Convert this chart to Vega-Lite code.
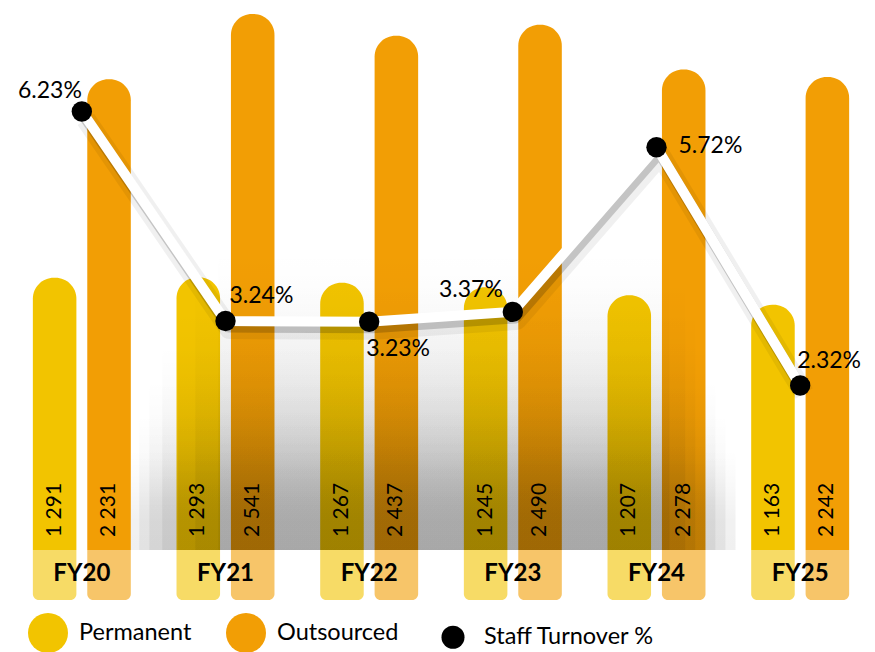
{
  "$schema": "https://vega.github.io/schema/vega-lite/v6.json",
  "width": 862,
  "height": 600,
  "autosize": {"type": "none"},
  "padding": {"left": 10, "top": 0, "right": 3, "bottom": 52},
  "background": "white",
  "config": {
    "view": {"stroke": null},
    "font": "Lato",
    "locale": {"number": {"decimal": ".", "thousands": " ", "grouping": [3], "currency": ["", ""]}}
  },
  "datasets": {
    "staff": [
      {"year": "FY20", "series": "Permanent", "value": 1291},
      {"year": "FY20", "series": "Outsourced", "value": 2231},
      {"year": "FY21", "series": "Permanent", "value": 1293},
      {"year": "FY21", "series": "Outsourced", "value": 2541},
      {"year": "FY22", "series": "Permanent", "value": 1267},
      {"year": "FY22", "series": "Outsourced", "value": 2437},
      {"year": "FY23", "series": "Permanent", "value": 1245},
      {"year": "FY23", "series": "Outsourced", "value": 2490},
      {"year": "FY24", "series": "Permanent", "value": 1207},
      {"year": "FY24", "series": "Outsourced", "value": 2278},
      {"year": "FY25", "series": "Permanent", "value": 1163},
      {"year": "FY25", "series": "Outsourced", "value": 2242}
    ],
    "turnover": [
      {"year": "FY20", "rate": 0.0623},
      {"year": "FY21", "rate": 0.0324},
      {"year": "FY22", "rate": 0.0323},
      {"year": "FY23", "rate": 0.0337},
      {"year": "FY24", "rate": 0.0572},
      {"year": "FY25", "rate": 0.0232}
    ]
  },
  "layer": [
    {
      "layer": [
        {
          "data": {"name": "staff"},
          "mark": {"type": "bar", "cornerRadiusTopLeft": 21, "cornerRadiusTopRight": 21, "cornerRadiusBottomLeft": 6, "cornerRadiusBottomRight": 6},
          "encoding": {
            "x": {"field": "year", "type": "nominal", "scale": {"domain": ["FY20", "FY21", "FY22", "FY23", "FY24", "FY25"], "paddingInner": 0, "paddingOuter": 0}, "axis": null},
            "xOffset": {"field": "series", "type": "nominal", "scale": {"domain": ["Permanent", "Outsourced"], "paddingInner": 0.2, "paddingOuter": 0.42}},
            "y": {"field": "value", "type": "quantitative", "scale": {"domain": [-237, 2607], "nice": false, "zero": false}, "axis": null},
            "y2": {"datum": -237},
            "color": {
              "field": "series", "type": "nominal",
              "scale": {"domain": ["Permanent", "Outsourced", "Staff Turnover %"], "range": ["#F2C400", "#F29E05", "#000000"]},
              "legend": {
                "title": null, "orient": "none", "legendX": 18, "legendY": 613, "direction": "horizontal",
                "symbolType": "circle", "symbolSize": 1600, "symbolStrokeWidth": 0, "symbolOpacity": 1,
                "labelFontSize": 23.5, "labelFont": "Lato", "labelColor": "#000", "labelOffset": 11, "labelLimit": 0,
                "columnPadding": 34, "padding": 0,
                "encode": {"symbols": {"update": {"size": {"signal": "datum.value === 'Staff Turnover %' ? 530 : 1600"}}}}
              }
            }
          }
        },
        {
          "data": {"values": [{}]},
          "mark": {"type": "rect", "fill": {"gradient": "linear", "x1": 0, "y1": 0, "x2": 0, "y2": 1, "stops": [{"offset": 0, "color": "rgba(0,0,0,0)"}, {"offset": 0.35, "color": "rgba(0,0,0,0.023)"}, {"offset": 0.7, "color": "rgba(0,0,0,0.053)"}, {"offset": 1, "color": "rgba(0,0,0,0.06)"}]}},
          "encoding": {"x": {"datum": "FY20", "bandPosition": 0.84}, "x2": {"datum": "FY25", "bandPosition": 0.05}, "y": {"datum": 474}, "y2": {"datum": 0}}
        },
        {
          "data": {"values": [{}]},
          "mark": {"type": "rect", "fill": {"gradient": "linear", "x1": 0, "y1": 0, "x2": 0, "y2": 1, "stops": [{"offset": 0, "color": "rgba(0,0,0,0)"}, {"offset": 0.35, "color": "rgba(0,0,0,0.023)"}, {"offset": 0.7, "color": "rgba(0,0,0,0.053)"}, {"offset": 1, "color": "rgba(0,0,0,0.06)"}]}},
          "encoding": {"x": {"datum": "FY20", "bandPosition": 0.9}, "x2": {"datum": "FY24", "bandPosition": 0.98}, "y": {"datum": 640}, "y2": {"datum": 0}}
        },
        {
          "data": {"values": [{}]},
          "mark": {"type": "rect", "fill": {"gradient": "linear", "x1": 0, "y1": 0, "x2": 0, "y2": 1, "stops": [{"offset": 0, "color": "rgba(0,0,0,0)"}, {"offset": 0.35, "color": "rgba(0,0,0,0.023)"}, {"offset": 0.7, "color": "rgba(0,0,0,0.053)"}, {"offset": 1, "color": "rgba(0,0,0,0.06)"}]}},
          "encoding": {"x": {"datum": "FY20", "bandPosition": 0.97}, "x2": {"datum": "FY24", "bandPosition": 0.91}, "y": {"datum": 806}, "y2": {"datum": 0}}
        },
        {
          "data": {"values": [{}]},
          "mark": {"type": "rect", "fill": {"gradient": "linear", "x1": 0, "y1": 0, "x2": 0, "y2": 1, "stops": [{"offset": 0, "color": "rgba(0,0,0,0)"}, {"offset": 0.35, "color": "rgba(0,0,0,0.023)"}, {"offset": 0.7, "color": "rgba(0,0,0,0.053)"}, {"offset": 1, "color": "rgba(0,0,0,0.06)"}]}},
          "encoding": {"x": {"datum": "FY21", "bandPosition": 0.06}, "x2": {"datum": "FY24", "bandPosition": 0.84}, "y": {"datum": 972}, "y2": {"datum": 0}}
        },
        {
          "data": {"values": [{}]},
          "mark": {"type": "rect", "fill": {"gradient": "linear", "x1": 0, "y1": 0, "x2": 0, "y2": 1, "stops": [{"offset": 0, "color": "rgba(0,0,0,0)"}, {"offset": 0.35, "color": "rgba(0,0,0,0.023)"}, {"offset": 0.7, "color": "rgba(0,0,0,0.053)"}, {"offset": 1, "color": "rgba(0,0,0,0.06)"}]}},
          "encoding": {"x": {"datum": "FY21", "bandPosition": 0.17}, "x2": {"datum": "FY24", "bandPosition": 0.77}, "y": {"datum": 1137}, "y2": {"datum": 0}}
        },
        {
          "data": {"values": [{}]},
          "mark": {"type": "rect", "fill": {"gradient": "linear", "x1": 0, "y1": 0, "x2": 0, "y2": 1, "stops": [{"offset": 0, "color": "rgba(0,0,0,0)"}, {"offset": 0.35, "color": "rgba(0,0,0,0.023)"}, {"offset": 0.7, "color": "rgba(0,0,0,0.053)"}, {"offset": 1, "color": "rgba(0,0,0,0.06)"}]}},
          "encoding": {"x": {"datum": "FY21", "bandPosition": 0.29}, "x2": {"datum": "FY24", "bandPosition": 0.7}, "y": {"datum": 1280}, "y2": {"datum": 0}}
        },
        {
          "data": {"values": [{}]},
          "mark": {"type": "rect", "fill": {"gradient": "linear", "x1": 0, "y1": 0, "x2": 0, "y2": 1, "stops": [{"offset": 0, "color": "rgba(0,0,0,0)"}, {"offset": 0.35, "color": "rgba(0,0,0,0.023)"}, {"offset": 0.7, "color": "rgba(0,0,0,0.053)"}, {"offset": 1, "color": "rgba(0,0,0,0.06)"}]}},
          "encoding": {"x": {"datum": "FY21", "bandPosition": 0.45}, "x2": {"datum": "FY24", "bandPosition": 0.59}, "y": {"datum": 1422}, "y2": {"datum": 0}}
        },
        {
          "data": {"values": [{}]},
          "mark": {"type": "rect", "fill": "#ffffff", "opacity": 0.4},
          "encoding": {"x": {"datum": "FY20", "bandPosition": 0}, "x2": {"datum": "FY25", "bandPosition": 1}, "y": {"datum": 0}, "y2": {"datum": -237}}
        },
        {
          "data": {"name": "staff"},
          "mark": {"type": "text", "angle": 270, "align": "left", "baseline": "middle", "dx": 13, "fontSize": 21, "color": "#000"},
          "encoding": {
            "x": {"field": "year", "type": "nominal"},
            "xOffset": {"field": "series", "type": "nominal"},
            "y": {"datum": 0},
            "text": {"field": "value", "type": "quantitative", "format": ",d"}
          }
        },
        {
          "data": {"name": "turnover"},
          "mark": {"type": "text", "fontSize": 24, "fontWeight": "bold", "baseline": "middle", "color": "#000"},
          "encoding": {
            "x": {"field": "year", "type": "nominal"},
            "y": {"datum": -114},
            "text": {"field": "year", "type": "nominal"}
          }
        }
      ]
    },
    {
      "data": {"name": "turnover"},
      "encoding": {
        "x": {"field": "year", "type": "nominal"},
        "y": {"field": "rate", "type": "quantitative", "scale": {"domain": [-0.0074, 0.0782], "nice": false, "zero": false}, "axis": null}
      },
      "layer": [
        {"mark": {"type": "line", "stroke": "#000", "strokeWidth": 20, "opacity": 0.06, "xOffset": 4, "yOffset": 8, "strokeJoin": "round"}},
        {"mark": {"type": "line", "stroke": "#000", "strokeWidth": 11, "opacity": 0.18, "xOffset": 3, "yOffset": 6, "strokeJoin": "round"}},
        {"mark": {"type": "line", "stroke": "#ffffff", "strokeWidth": 10}},
        {"mark": {"type": "point", "filled": true, "size": 415, "opacity": 1}, "encoding": {"color": {"datum": "Staff Turnover %"}}},
        {"transform": [{"filter": "datum.year === 'FY20'"}], "mark": {"type": "text", "align": "right", "baseline": "middle", "dx": 0, "dy": -20, "fontSize": 23, "color": "#000"}, "encoding": {"text": {"field": "rate", "type": "quantitative", "format": ".2%"}}},
        {"transform": [{"filter": "datum.year === 'FY21'"}], "mark": {"type": "text", "align": "left", "baseline": "middle", "dx": 4, "dy": -25, "fontSize": 23, "color": "#000"}, "encoding": {"text": {"field": "rate", "type": "quantitative", "format": ".2%"}}},
        {"transform": [{"filter": "datum.year === 'FY22'"}], "mark": {"type": "text", "align": "left", "baseline": "middle", "dx": -3, "dy": 27, "fontSize": 23, "color": "#000"}, "encoding": {"text": {"field": "rate", "type": "quantitative", "format": ".2%"}}},
        {"transform": [{"filter": "datum.year === 'FY23'"}], "mark": {"type": "text", "align": "right", "baseline": "middle", "dx": -10, "dy": -22, "fontSize": 23, "color": "#000"}, "encoding": {"text": {"field": "rate", "type": "quantitative", "format": ".2%"}}},
        {"transform": [{"filter": "datum.year === 'FY24'"}], "mark": {"type": "text", "align": "left", "baseline": "middle", "dx": 22, "dy": -1, "fontSize": 23, "color": "#000"}, "encoding": {"text": {"field": "rate", "type": "quantitative", "format": ".2%"}}},
        {"transform": [{"filter": "datum.year === 'FY25'"}], "mark": {"type": "text", "align": "left", "baseline": "middle", "dx": -3, "dy": -25, "fontSize": 23, "color": "#000"}, "encoding": {"text": {"field": "rate", "type": "quantitative", "format": ".2%"}}}
      ]
    }
  ],
  "resolve": {"scale": {"y": "independent"}}
}
